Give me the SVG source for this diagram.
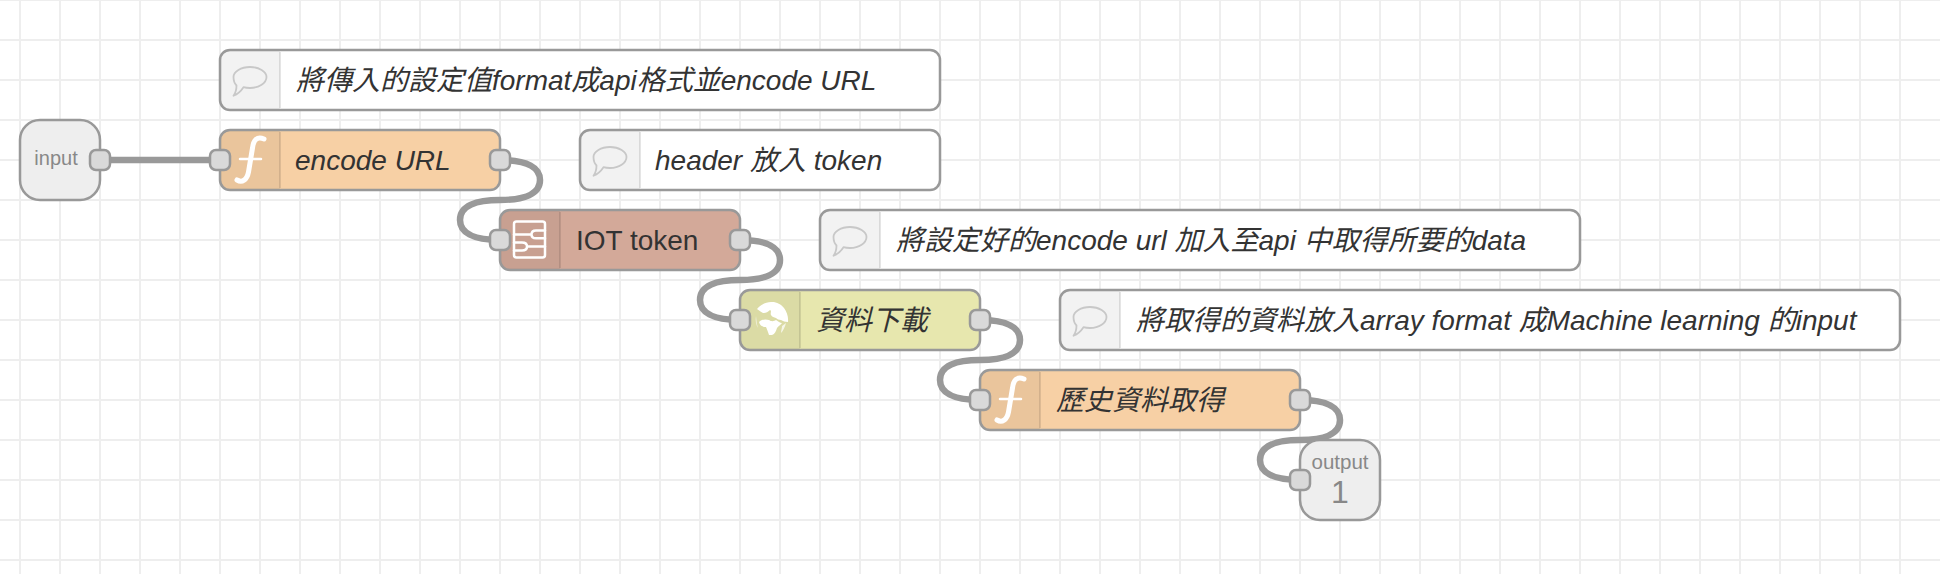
<svg xmlns="http://www.w3.org/2000/svg" width="1940" height="574" viewBox="0 0 1940 574">
<style>
.grid{stroke:#eee;stroke-width:2;fill:none}
.wire{stroke:#999;stroke-width:6.500;fill:none}
.box{stroke:#999;stroke-width:2.5}
.panel{fill:#000;fill-opacity:.05}
.div{stroke:#000;stroke-opacity:.1;stroke-width:2}
.port{fill:#d9d9d9;stroke:#999;stroke-width:2.5}
.lbl{font-family:"Liberation Sans","Noto Sans CJK TC",sans-serif;font-size:28px;fill:#333}
.it{font-style:italic}
.sm{font-family:"Liberation Sans",sans-serif;fill:#888;text-anchor:middle}
.bubble{fill:none;stroke:#c8c8c8;stroke-width:1.800;stroke-linejoin:round}
.ico{fill:none;stroke:#fff;stroke-linecap:round;stroke-linejoin:round}
</style>
<defs>
<path id="bub" class="bubble" d="M30 17C39 17 46.500 21.500 46.500 27C46.500 33 39 38 30 38C27.500 38 25.500 37.800 23.500 37.200C21 41 18 44 13.500 45.700C15.500 43 16.500 39 16.500 35.500C14.500 33.500 13.500 30 13.500 27C13.500 21.500 21 17 30 17Z"/>
<path id="fn" class="ico" stroke-width="5" d="M44 9C37 6 33.500 10 32.500 18L28.500 42C27 50 22 53 17 50"/>
</defs>
<rect width="1940" height="574" fill="#fff"/>
<g id="grid">
<path class="grid" d="M20 0V574M60 0V574M100 0V574M140 0V574M180 0V574M220 0V574M260 0V574M300 0V574M340 0V574M380 0V574M420 0V574M460 0V574M500 0V574M540 0V574M580 0V574M620 0V574M660 0V574M700 0V574M740 0V574M780 0V574M820 0V574M860 0V574M900 0V574M940 0V574M980 0V574M1020 0V574M1060 0V574M1100 0V574M1140 0V574M1180 0V574M1220 0V574M1260 0V574M1300 0V574M1340 0V574M1380 0V574M1420 0V574M1460 0V574M1500 0V574M1540 0V574M1580 0V574M1620 0V574M1660 0V574M1700 0V574M1740 0V574M1780 0V574M1820 0V574M1860 0V574M1900 0V574"/>
<path class="grid" d="M0 0H1940M0 40H1940M0 80H1940M0 120H1940M0 160H1940M0 200H1940M0 240H1940M0 280H1940M0 320H1940M0 360H1940M0 400H1940M0 440H1940M0 480H1940M0 520H1940M0 560H1940"/>
</g>
<g id="connectors">
<path class="wire" d="M100 160H220"/>
<path class="wire" d="M500 160C528 160 540 168 540 180C540 194 524 200 500 200C476 200 460 206 460 220C460 232 472 240 500 240"/>
<path class="wire" d="M740 240C768 240 780 248 780 260C780 274 764 280 740 280C716 280 700 286 700 300C700 312 712 320 740 320"/>
<path class="wire" d="M980 320C1008 320 1020 328 1020 340C1020 354 1004 360 980 360C956 360 940 366 940 380C940 392 952 400 980 400"/>
<path class="wire" d="M1300 400C1328 400 1340 408 1340 420C1340 434 1324 440 1300 440C1276 440 1260 446 1260 460C1260 472 1272 480 1300 480"/>
</g>
<g id="input">
<rect class="box" x="20" y="120" width="80" height="80" rx="20" fill="#eee"/>
<text class="sm" x="56" y="165" font-size="20">input</text>
<rect class="port" x="90" y="150" width="20" height="20" rx="6"/>
</g>
<g id="comment1">
<rect class="box" x="220" y="50" width="720" height="60" rx="10" fill="#fff"/>
<path class="panel" d="M230 51H280V109H230A9 9 0 0 1 221 100V60A9 9 0 0 1 230 51Z"/>
<path class="div" d="M280 52V108"/>
<use href="#bub" x="220" y="50"/>
<text class="lbl it" x="296" y="90">將傳入的設定值format成api格式並encode URL</text>
</g>
<g id="encode-url">
<rect class="box" x="220" y="130" width="280" height="60" rx="10" fill="#f7d0a5"/>
<path class="panel" d="M230 131H280V189H230A9 9 0 0 1 221 180V140A9 9 0 0 1 230 131Z"/>
<path class="div" d="M280 132V188"/>
<g transform="translate(220 130)"><use href="#fn"/><path class="ico" stroke-width="2.500" d="M20 29H41"/></g>
<text class="lbl it" x="295" y="170">encode URL</text>
<rect class="port" x="210" y="150" width="20" height="20" rx="6"/>
<rect class="port" x="490" y="150" width="20" height="20" rx="6"/>
</g>
<g id="comment2">
<rect class="box" x="580" y="130" width="360" height="60" rx="10" fill="#fff"/>
<path class="panel" d="M590 131H640V189H590A9 9 0 0 1 581 180V140A9 9 0 0 1 590 131Z"/>
<path class="div" d="M640 132V188"/>
<use href="#bub" x="580" y="130"/>
<text class="lbl it" x="655" y="170">header 放入 token</text>
</g>
<g id="iot-token">
<rect class="box" x="500" y="210" width="240" height="60" rx="10" fill="#d3a999"/>
<path class="panel" d="M510 211H560V269H510A9 9 0 0 1 501 260V220A9 9 0 0 1 510 211Z"/>
<path class="div" d="M560 212V268"/>
<g transform="translate(500 210)" class="ico" stroke-width="2.500">
<rect x="14" y="11.500" width="31" height="36" rx="2.500"/>
<path d="M45 20.500H36C33 20.500 31.500 22 31.500 24.500C31.500 26.500 33 28.300 36 28.300H45M14 24.500H31.500M14 32.500H22C25 32.500 27 34 27 36.500C27 39 25 40.500 22 40.500H14M27 36.500H45"/>
</g>
<text class="lbl" x="576" y="250">IOT token</text>
<rect class="port" x="490" y="230" width="20" height="20" rx="6"/>
<rect class="port" x="730" y="230" width="20" height="20" rx="6"/>
</g>
<g id="comment3">
<rect class="box" x="820" y="210" width="760" height="60" rx="10" fill="#fff"/>
<path class="panel" d="M830 211H880V269H830A9 9 0 0 1 821 260V220A9 9 0 0 1 830 211Z"/>
<path class="div" d="M880 212V268"/>
<use href="#bub" x="820" y="210"/>
<text class="lbl it" x="896" y="250">將設定好的encode url 加入至api 中取得所要的data</text>
</g>
<g id="data-download">
<rect class="box" x="740" y="290" width="240" height="60" rx="10" fill="#e7e7ae"/>
<path class="panel" d="M750 291H800V349H750A9 9 0 0 1 741 340V300A9 9 0 0 1 750 291Z"/>
<path class="div" d="M800 292V348"/>
<g transform="translate(740 290)" fill="#fff">
<path d="M17 19C20 15 26 12 31 12C36 11.500 41 14 44 18C47 22 48.500 27 48 32C45 32 43 31 41 30C39 30 37 29 36 28C34 27.500 32 27 31 25C30 23 32 21 30 20C28 22 26 23 24 23C22 23 20 21 17 19Z"/>
<path d="M19 32C22 29 26 29 29 30C32 32 34 31 36 30C38 31 40 33 42 33C41 35 38 36 37 38C36 41 35 44 32 45L29 45C28 42 27 39 26 37C23 37 20 36 19 32Z"/>
<path d="M42 36L46 33C45 37 43 41 41 43C41 41 42 38 42 36Z" fill-opacity=".75"/>
<path d="M16 26L17 34L18 38C16 35 15 30 16 26Z" fill-opacity=".6"/>
</g>
<text class="lbl it" x="816" y="330">資料下載</text>
<rect class="port" x="730" y="310" width="20" height="20" rx="6"/>
<rect class="port" x="970" y="310" width="20" height="20" rx="6"/>
</g>
<g id="comment4">
<rect class="box" x="1060" y="290" width="840" height="60" rx="10" fill="#fff"/>
<path class="panel" d="M1070 291H1120V349H1070A9 9 0 0 1 1061 340V300A9 9 0 0 1 1070 291Z"/>
<path class="div" d="M1120 292V348"/>
<use href="#bub" x="1060" y="290"/>
<text class="lbl it" x="1136" y="330">將取得的資料放入array format 成Machine learning 的input</text>
</g>
<g id="history">
<rect class="box" x="980" y="370" width="320" height="60" rx="10" fill="#f7d0a5"/>
<path class="panel" d="M990 371H1040V429H990A9 9 0 0 1 981 420V380A9 9 0 0 1 990 371Z"/>
<path class="div" d="M1040 372V428"/>
<g transform="translate(980 370)"><use href="#fn"/><path class="ico" stroke-width="2.500" d="M20 29H41"/></g>
<text class="lbl it" x="1056" y="410">歷史資料取得</text>
<rect class="port" x="970" y="390" width="20" height="20" rx="6"/>
<rect class="port" x="1290" y="390" width="20" height="20" rx="6"/>
</g>
<g id="output">
<rect class="box" x="1300" y="440" width="80" height="80" rx="20" fill="#eee"/>
<text class="sm" x="1340" y="469" font-size="20.500">output</text>
<text class="sm" x="1340" y="503" font-size="32">1</text>
<rect class="port" x="1290" y="470" width="20" height="20" rx="6"/>
</g>
</svg>
